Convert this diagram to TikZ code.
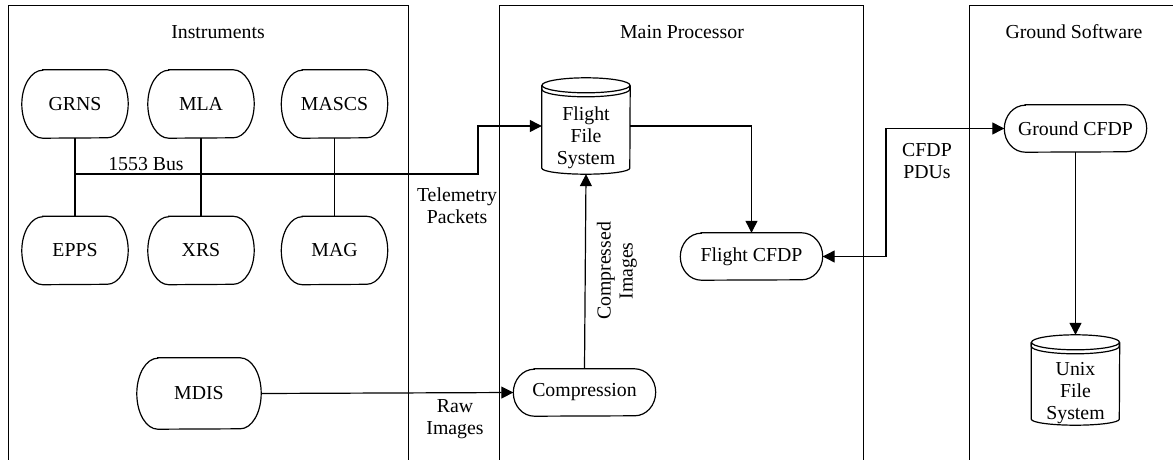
\documentclass[tikz,border=0pt]{standalone}
\usepackage{fontspec}
\setmainfont{Liberation Serif}
\usetikzlibrary{arrows.meta,calc}

\tikzset{
  lbl/.style={font=\fontsize{19.8}{22}\selectfont, align=center, inner sep=0pt},
  instr/.style={lbl, minimum width=106pt, minimum height=68pt},
  task/.style={lbl, minimum width=142pt, minimum height=47pt},
  drum/.style={minimum width=88pt, minimum height=96pt, inner sep=0pt},
  outline/.style={line width=1.2pt},
  frame/.style={line width=1pt},
  link/.style={line width=1.2pt},
  arr/.style={link, -{Triangle[length=12pt,width=12pt]}},
  dbl/.style={link, {Triangle[length=12pt,width=12pt]}-{Triangle[length=12pt,width=12pt]}}
}

% capsule outline with elliptical ends around a named node: #1 name, #2 half height
\newcommand\capsule[2]{%
  \draw[outline]
    ($(#1.north west)+(21pt,0pt)$) -- ($(#1.north east)+(-21pt,0pt)$)
    arc[start angle=90, end angle=-90, x radius=21pt, y radius=#2]
    -- ($(#1.south west)+(21pt,0pt)$)
    arc[start angle=270, end angle=90, x radius=21pt, y radius=#2]
    -- cycle;
}

% cylinder outline drawn around a named node
\newcommand\drumoutline[1]{%
  \draw[outline]
    ($(#1.north)+(0pt,-7.5pt)$) ellipse [x radius=44pt, y radius=7.5pt];
  \draw[outline]
    ($(#1.north west)+(0pt,-7.5pt)$) -- ++(0pt,-4pt)
    arc[start angle=180, end angle=360, x radius=44pt, y radius=7.5pt]
    -- ++(0pt,4pt);
  \draw[outline]
    ($(#1.north west)+(0pt,-7.5pt)$) -- ($(#1.south west)+(0pt,6pt)$)
    arc[start angle=180, end angle=360, x radius=44pt, y radius=6pt]
    -- ($(#1.north east)+(0pt,-7.5pt)$);
}

\begin{document}
\begin{tikzpicture}[x=1pt, y=-1pt]
\useasboundingbox (0,0) rectangle (1173,460);

% group frames, open at the bottom
\draw[frame] (8,470) -- (8,6) -- (408,6) -- (408,470);
\draw[frame] (499,470) -- (499,6) -- (863,6) -- (863,470);
\draw[frame] (969,470) -- (969,6) -- (1180,6);

\node[lbl] (tInstr) at (218,32) {Instruments};
\node[lbl] (tMain) at (682,32) {Main Processor};
\node[lbl] (tGround) at (1074,32) {Ground Software};

% instruments
\node[instr] (grns)  at (75,104)    {GRNS};
\node[instr] (mla)   at (201,104)   {MLA};
\node[instr] (mascs) at (334.5,104) {MASCS};
\node[instr] (epps)  at (75,250.5)  {EPPS};
\node[instr] (xrs)   at (201,250.5) {XRS};
\node[instr] (mag)   at (334.5,250.5) {MAG};
\node[lbl, minimum width=124pt, minimum height=71pt] (mdis) at (199,393.5) {MDIS};
\foreach \n in {grns,mla,mascs,epps,xrs,mag} {\capsule{\n}{34pt}}
\capsule{mdis}{35.5pt}

% processor and ground nodes
\node[drum] (ffs) at (586,126) {};
\drumoutline{ffs}
\node[lbl] (ffsText) at ($(ffs.center)+(0pt,-12pt)$) {Flight\\File\\System};
\node[task] (comp)  at (584.5,392.5) {Compression};
\node[task] (fcfdp) at (751.5,256.5) {Flight CFDP};
\node[task] (gcfdp) at (1075.5,128.5) {Ground CFDP};
\foreach \n in {comp,fcfdp,gcfdp} {\capsule{\n}{23.5pt}}
\node[drum, minimum height=90pt] (ufs) at (1075.5,380) {};
\drumoutline{ufs}
\node[lbl] (ufsText) at ($(ufs.center)+(0pt,-13pt)$) {Unix\\File\\System};

% 1553 bus
\coordinate (busL) at (75,174);
\coordinate (busR) at (478,174);
\draw[link] (grns) -- (epps);
\draw[link] (mla) -- (xrs);
\draw[link] (mascs) -- (mag);
\draw[arr] (busL) -- (busR) |- (ffs.west);
\node[lbl] (busLbl) at (146,164) {1553 Bus};
\node[lbl] (telLbl) at (457,206) {Telemetry\\Packets};

% image path
\draw[arr] (mdis.east) -- (comp.west);
\node[lbl] (rawLbl) at (455,419) {Raw\\Images};
\draw[arr] (comp.north) -- (ffs.south);
\node[lbl, rotate=90] (cmpLbl) at (617,271) {Compressed\\Images};

% file delivery
\draw[arr] (ffs.east) -| (fcfdp.north);
\coordinate (pduX) at (886,0);
\draw[dbl] (fcfdp.east) -- (fcfdp.east -| pduX) -- (gcfdp.west -| pduX) -- (gcfdp.west);
\node[lbl] (pduLbl) at (927,161.5) {CFDP\\PDUs};
\draw[arr] (gcfdp.south) -- (ufs.north);
\end{tikzpicture}
\end{document}
